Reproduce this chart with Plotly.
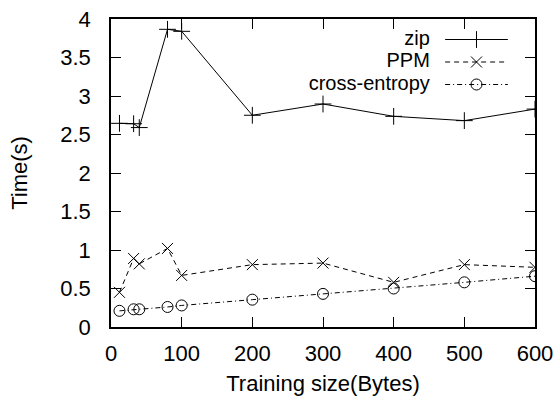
import plotly.graph_objects as go

x_zip = [12, 32, 40, 80, 100, 200, 300, 400, 500, 600]
zip_t = [2.645, 2.64, 2.59, 3.866, 3.84, 2.75, 2.896, 2.736, 2.68, 2.83]
x_ppm = [12, 32, 40, 80, 100, 200, 300, 400, 500, 600]
ppm_t = [0.45, 0.89, 0.82, 1.02, 0.67, 0.81, 0.83, 0.58, 0.81, 0.775]
x_ce = [12, 32, 40, 80, 100, 200, 300, 400, 500, 600]
ce_t = [0.21, 0.23, 0.23, 0.26, 0.28, 0.355, 0.43, 0.50, 0.58, 0.66]

names = ["zip", "PPM", "cross-entropy"]
x_ticks = [0, 100, 200, 300, 400, 500, 600]
y_ticks = [0, 0.5, 1, 1.5, 2, 2.5, 3, 3.5, 4]
y_labels = ["0", "0.5", "1", "1.5", "2", "2.5", "3", "3.5", "4"]

FONT = "Liberation Sans, Arial, Helvetica, sans-serif"
FS = 22
LFS = 20
styles = [
    dict(dash="solid", symbol="cross-thin-open", size=12),
    dict(dash="5px,4px", symbol="x-thin-open", size=11),
    dict(dash="5px,3px,1px,3px", symbol="circle-open", size=11),
]
series = [(x_zip, zip_t), (x_ppm, ppm_t), (x_ce, ce_t)]

fig = go.Figure()
for (xs, ys), st, nm in zip(series, styles, names):
    fig.add_trace(go.Scatter(
        x=xs, y=ys, mode="lines+markers", name=nm, showlegend=False,
        line=dict(color="black", width=1, dash=st["dash"]),
        marker=dict(symbol=st["symbol"], size=st["size"], color="black",
                    line=dict(color="black", width=1)),
    ))

# manual gnuplot-style legend (text left, sample right)
leg_y = [0.9334, 0.8604, 0.7873]
for nm, st, ly in zip(names, styles, leg_y):
    fig.add_trace(go.Scatter(
        x=[0.788, 0.936], y=[ly, ly], mode="lines", xaxis="x2", yaxis="y2",
        showlegend=False, hoverinfo="skip",
        line=dict(color="black", width=1, dash=st["dash"]),
    ))
    fig.add_trace(go.Scatter(
        x=[0.862], y=[ly], mode="markers", xaxis="x2", yaxis="y2",
        showlegend=False, hoverinfo="skip",
        marker=dict(symbol=st["symbol"], size=st["size"], color="black",
                    line=dict(color="black", width=1)),
    ))
    fig.add_trace(go.Scatter(
        x=[0.752], y=[ly], mode="text", text=[nm], xaxis="x2", yaxis="y2",
        textposition="middle left", showlegend=False, hoverinfo="skip",
        textfont=dict(family=FONT, size=LFS, color="black"),
    ))

axis_common = dict(
    showgrid=False, zeroline=False, showline=True, linecolor="black",
    linewidth=1.5, mirror="allticks", ticks="inside", ticklen=10,
    tickwidth=1, tickcolor="black", automargin=False,
    tickfont=dict(family=FONT, size=FS, color="black"),
)

fig.update_layout(
    width=558, height=398,
    margin=dict(l=111, r=23, t=19, b=71, autoexpand=False),
    paper_bgcolor="white", plot_bgcolor="white",
    font=dict(family=FONT, size=FS, color="black"),
    xaxis=dict(range=[0, 600], tickvals=x_ticks, ticklabelstandoff=6,
               title=dict(text="Training size(Bytes)", standoff=10,
                          font=dict(family=FONT, size=FS, color="black")),
               **axis_common),
    yaxis=dict(range=[0, 4], tickvals=y_ticks, ticktext=y_labels,
               ticklabelstandoff=14,
               title=dict(text="Time(s)", standoff=27,
                          font=dict(family=FONT, size=FS, color="black")),
               **axis_common),
    xaxis2=dict(range=[0, 1], overlaying="x", visible=False, fixedrange=True),
    yaxis2=dict(range=[0, 1], overlaying="y", visible=False, fixedrange=True),
)

fig.write_html("out.html")
